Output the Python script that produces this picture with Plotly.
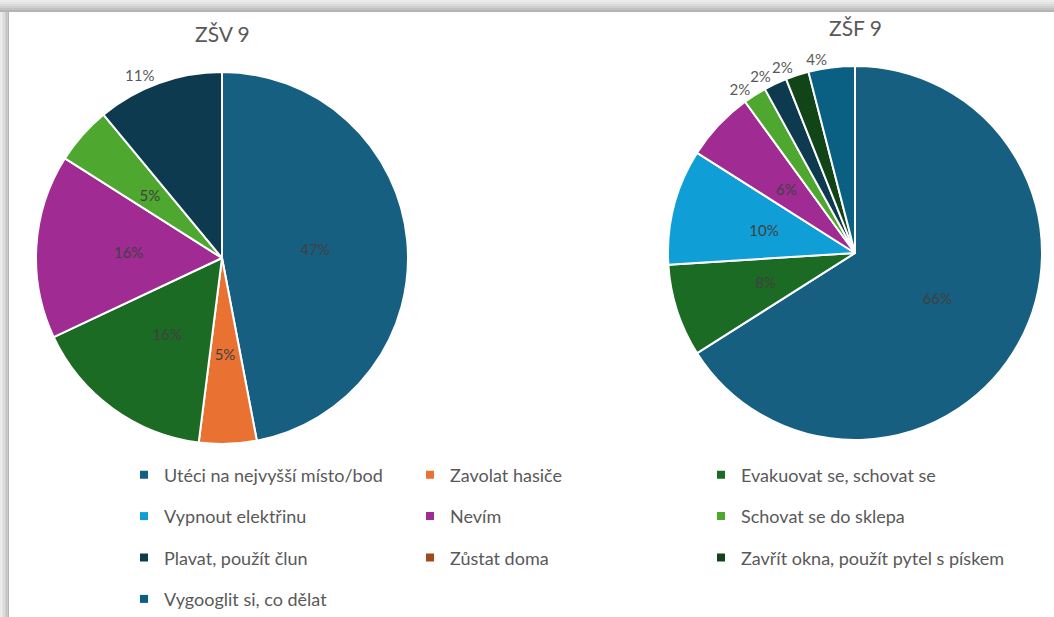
import plotly.graph_objects as go

W, H = 1054, 617

# ---- data ----
zsv_labels = ["Utéci na nejvyšší místo/bod", "Zavolat hasiče", "Evakuovat se, schovat se",
              "Nevím", "Schovat se do sklepa", "Plavat, použít člun"]
zsv_values = [47, 5, 16, 16, 5, 11]

zsf_labels = ["Utéci na nejvyšší místo/bod", "Evakuovat se, schovat se", "Vypnout elektřinu",
              "Nevím", "Schovat se do sklepa", "Plavat, použít člun",
              "Zavřít okna, použít pytel s pískem", "Vygooglit si, co dělat"]
zsf_values = [66, 8, 10, 6, 2, 2, 2, 4]

legend_columns = [
    ["Utéci na nejvyšší místo/bod", "Vypnout elektřinu", "Plavat, použít člun", "Vygooglit si, co dělat"],
    ["Zavolat hasiče", "Nevím", "Zůstat doma"],
    ["Evakuovat se, schovat se", "Schovat se do sklepa", "Zavřít okna, použít pytel s pískem"],
]

titles = ["ZŠV 9", "ZŠF 9"]

colors = {
    "Utéci na nejvyšší místo/bod": "#175f81",
    "Zavolat hasiče": "#e97132",
    "Evakuovat se, schovat se": "#1b6b24",
    "Vypnout elektřinu": "#0f9ed5",
    "Nevím": "#a02b93",
    "Schovat se do sklepa": "#4ea72e",
    "Plavat, použít člun": "#0e3a50",
    "Zůstat doma": "#a04a1c",
    "Zavřít okna, použít pytel s pískem": "#114517",
    "Vygooglit si, co dělat": "#0a6082",
}

FONT = "Lato"
LABEL_FONT = dict(family=FONT, size=15, color="#404040")
OUT_FONT = dict(family=FONT, size=15, color="#595959")
CLEAR = "rgba(0,0,0,0)"


def px_x(x):
    return x / W


def px_y(y):
    return 1 - y / H


def pie_domain(cx, cy, r):
    return dict(x=[px_x(cx - r), px_x(cx + r)], y=[px_y(cy + r), px_y(cy - r)])


fig = go.Figure()

pies = [
    (zsv_labels, zsv_values, (222, 258, 186), lambda v: 10 < v < 12),
    (zsf_labels, zsf_values, (855, 253, 187), lambda v: v <= 4),
]

for labels, values, (cx, cy, r), is_out in pies:
    dom = pie_domain(cx, cy, r)
    common = dict(labels=labels, values=values, sort=False, direction="clockwise",
                  rotation=0, showlegend=False, texttemplate="%{percent:.0%}")
    # coloured slices
    fig.add_trace(go.Pie(
        marker=dict(colors=[colors[l] for l in labels], line=dict(color="white", width=2)),
        textposition="none", domain=dom, hoverinfo="label+percent", **common,
    ))
    # inside labels: transparent ring so labels sit at about half the radius
    inner_pos = ["none" if is_out(v) else "inside" for v in values]
    fig.add_trace(go.Pie(
        marker=dict(colors=[CLEAR] * len(values), line=dict(width=0)),
        textposition=inner_pos, insidetextorientation="horizontal",
        insidetextfont=LABEL_FONT, hole=0.684,
        domain=pie_domain(cx, cy, r * 0.597), hoverinfo="skip", **common,
    ))
    # outside labels, one overlay each so plotly does not stack them with leader lines
    for i, v in enumerate(values):
        if not is_out(v):
            continue
        pos = ["outside" if j == i else "none" for j in range(len(values))]
        fig.add_trace(go.Pie(
            marker=dict(colors=[CLEAR] * len(values), line=dict(width=0)),
            textposition=pos, outsidetextfont=OUT_FONT,
            domain=dom, hoverinfo="skip", **common,
        ))

# legend entries (one legend per column)
legend_names = ["legend", "legend2", "legend3"]
for col, names in enumerate(legend_columns):
    for name in names:
        fig.add_trace(go.Scatter(
            x=[None], y=[None], mode="markers", name=name,
            marker=dict(symbol="square", size=8, color=colors[name]),
            legend=legend_names[col], legendgroup=name, showlegend=True,
        ))

legend_x = [124, 410, 701]
legend_common = dict(
    orientation="v", yanchor="top", xanchor="left", y=px_y(456.5),
    bgcolor="rgba(0,0,0,0)", tracegroupgap=15,
    font=dict(family=FONT, size=18, color="#595959"),
)
layout_legends = {}
for i, ln in enumerate(legend_names):
    layout_legends[ln] = dict(x=px_x(legend_x[i]), **legend_common)

# shadow frame
shapes = []
steps = ["#ececec", "#e4e4e4", "#dadada", "#cfcfcf", "#c2c2c2", "#b4b4b4"]
n = len(steps)
for i, c in enumerate(steps):
    y0 = i * 12 / n
    shapes.append(dict(type="rect", xref="paper", yref="paper", layer="below",
                       x0=0, x1=1, y0=px_y(y0 + 12 / n), y1=px_y(y0),
                       fillcolor=c, line=dict(width=0)))
for i, c in enumerate(steps):
    x0 = i * 9 / n
    shapes.append(dict(type="rect", xref="paper", yref="paper", layer="below",
                       x0=px_x(x0), x1=px_x(x0 + 9 / n), y0=0, y1=px_y(12),
                       fillcolor=c, line=dict(width=0)))

annotations = [
    dict(text=titles[0], x=px_x(222), y=px_y(34), xref="paper", yref="paper",
         xanchor="center", yanchor="middle", showarrow=False,
         font=dict(family=FONT, size=21, color="#595959")),
    dict(text=titles[1], x=px_x(855), y=px_y(28), xref="paper", yref="paper",
         xanchor="center", yanchor="middle", showarrow=False,
         font=dict(family=FONT, size=21, color="#595959")),
]

fig.update_layout(
    width=W, height=H, margin=dict(l=0, r=0, t=0, b=0, autoexpand=False),
    paper_bgcolor="white", plot_bgcolor="rgba(0,0,0,0)",
    xaxis=dict(visible=False), yaxis=dict(visible=False),
    shapes=shapes, annotations=annotations,
    **layout_legends,
)

fig.write_html("out.html", config={"displayModeBar": False},
               post_script="document.body.style.margin='0';")
